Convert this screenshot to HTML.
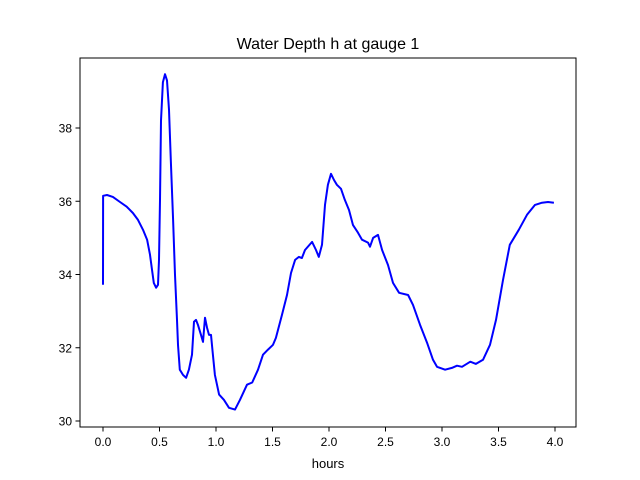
<!DOCTYPE html>
<html><head><meta charset="utf-8"><style>
body{margin:0;background:#fff}
svg{display:block;font-family:"Liberation Sans","DejaVu Sans",sans-serif}
</style></head><body>
<svg id="chart" width="640" height="480">
<rect x="0" y="0" width="640" height="480" fill="#fff"/>
<text x="328" y="49" font-size="16" text-anchor="middle">Water Depth h at gauge 1</text>
<g id="plot"></g>
<rect x="80" y="58" width="496" height="369" fill="none" stroke="#000" stroke-width="1"/>
<text x="328" y="468" font-size="13" text-anchor="middle">hours</text>
</svg>
<script>
const hours=[0,0.001,0.035,0.088,0.15,0.21,0.265,0.31,0.354,0.39,0.416,0.434,0.45,0.47,0.487,0.496,0.504,0.513,0.53,0.549,0.566,0.584,0.6,0.62,0.637,0.655,0.664,0.68,0.708,0.735,0.76,0.788,0.805,0.823,0.84,0.867,0.885,0.903,0.92,0.938,0.956,0.973,0.99,1.027,1.07,1.115,1.168,1.212,1.274,1.32,1.372,1.416,1.46,1.504,1.53,1.584,1.628,1.664,1.7,1.734,1.76,1.788,1.85,1.885,1.91,1.938,1.965,1.99,2.018,2.044,2.07,2.106,2.14,2.177,2.212,2.257,2.292,2.345,2.363,2.39,2.434,2.47,2.522,2.566,2.62,2.7,2.743,2.805,2.867,2.92,2.956,3.027,3.088,3.133,3.177,3.25,3.3,3.363,3.425,3.478,3.54,3.6,3.68,3.752,3.823,3.885,3.938,3.99];
const depth=[33.72,36.15,36.17,36.12,35.98,35.85,35.68,35.49,35.22,34.95,34.54,34.13,33.77,33.64,33.72,34.4,36.04,38.2,39.25,39.47,39.3,38.5,37.13,35.49,33.99,32.76,32.08,31.4,31.26,31.18,31.4,31.81,32.71,32.76,32.63,32.35,32.16,32.82,32.55,32.35,32.35,31.81,31.26,30.72,30.58,30.36,30.31,30.58,30.99,31.05,31.4,31.81,31.95,32.08,32.27,32.9,33.44,34.04,34.4,34.48,34.45,34.67,34.89,34.67,34.48,34.81,35.9,36.45,36.75,36.58,36.45,36.34,36.04,35.76,35.35,35.14,34.95,34.87,34.76,35.0,35.08,34.67,34.26,33.77,33.5,33.44,33.17,32.63,32.14,31.67,31.48,31.4,31.45,31.51,31.48,31.62,31.56,31.67,32.08,32.76,33.85,34.81,35.22,35.63,35.9,35.96,35.98,35.96];
const xTicks=[0,0.5,1,1.5,2,2.5,3,3.5,4];
const xTickLabels=["0.0","0.5","1.0","1.5","2.0","2.5","3.0","3.5","4.0"];
const yTicks=[30,32,34,36,38];
const yTickLabels=["30","32","34","36","38"];
const NS="http://www.w3.org/2000/svg";
const xs=v=>103+(v-0)*(555-103)/4;
const ys=v=>421-(v-30)*(421-128)/8;
const g=document.getElementById('plot');
function mk(t,a){const e=document.createElementNS(NS,t);for(const k in a)e.setAttribute(k,a[k]);return e;}
xTicks.forEach((t,i)=>{
  const l=mk('line',{x1:xs(t),x2:xs(t),y1:427,y2:431.5,stroke:'#000'});
  
  
  g.appendChild(l);
  const tx=mk('text',{x:xs(t),y:446,'font-size':12,'text-anchor':'middle'});
  
  
  tx.textContent=xTickLabels[i];g.appendChild(tx);
});
yTicks.forEach((t,i)=>{
  const l=mk('line',{x1:75.5,x2:80,y1:ys(t),y2:ys(t),stroke:'#000'});
  
  
  g.appendChild(l);
  const tx=mk('text',{x:72,y:ys(t)+4.5,'font-size':12,'text-anchor':'end'});
  
  
  tx.textContent=yTickLabels[i];g.appendChild(tx);
});
const p=mk('polyline',{points:hours.map((h,i)=>xs(h).toFixed(1)+','+ys(depth[i]).toFixed(1)).join(' '),fill:'none',stroke:'#0000ff','stroke-width':2,'stroke-linejoin':'round'});


g.appendChild(p);
</script>
</body></html>
